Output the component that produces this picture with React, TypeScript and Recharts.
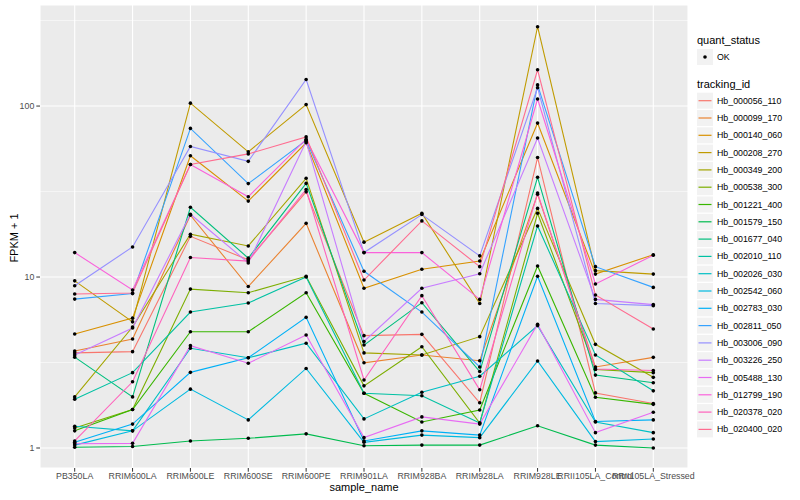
import React from 'react';
import { LineChart, Line, XAxis, YAxis, CartesianGrid, ReferenceLine } from 'recharts';

const samples = [
  'PB350LA', 'RRIM600LA', 'RRIM600LE', 'RRIM600SE', 'RRIM600PE', 'RRIM901LA',
  'RRIM928BA', 'RRIM928LA', 'RRIM928LE', 'RRII105LA_Control', 'RRII105LA_Stressed',
];

const yTicks = [1, 10, 100];
const minorTicks = [3.1623, 31.623, 316.23];

// FPKM + 1 per gene, one value per sample
const Hb_000056_110 = [3.6, 3.66, 17.3, 12.6, 31.5, 4.54, 4.62, 1.84, 50, 2.1, 1.82];
const Hb_000099_170 = [3.69, 4.34, 23.0, 8.8, 20.6, 3.15, 3.5, 3.24, 30.5, 2.98, 3.39];
const Hb_000140_060 = [4.64, 5.75, 51.2, 27.8, 61, 8.6, 11.1, 12.4, 79.5, 10.4, 13.5];
const Hb_000208_270 = [9.5, 5.47, 104, 54, 102, 16, 23.6, 7.0, 291, 10.9, 10.4];
const Hb_000349_200 = [1.99, 5.1, 17.8, 15.2, 37.8, 3.6, 3.5, 4.48, 25.2, 4.04, 2.59];
const Hb_000538_300 = [1.31, 1.68, 8.5, 8.1, 10.1, 2.31, 3.91, 1.4, 23.6, 2.88, 2.76];
const Hb_001221_400 = [1.26, 1.68, 4.79, 4.79, 8.1, 2.09, 1.42, 1.67, 11.6, 1.98, 1.8];
const Hb_001579_150 = [1.01, 1.02, 1.1, 1.14, 1.21, 1.03, 1.04, 1.04, 1.35, 1.04, 1.0];
const Hb_001677_040 = [3.4, 1.99, 25.6, 12.9, 35.3, 4.0, 7.08, 2.8, 38.3, 2.67, 2.41];
const Hb_002010_110 = [1.93, 2.76, 6.24, 7.05, 10.0, 2.09, 2.02, 1.4, 19.9, 3.5, 2.16];
const Hb_002026_030 = [1.34, 1.26, 3.83, 3.37, 4.1, 1.48, 2.12, 2.63, 5.2, 1.42, 1.23];
const Hb_002542_060 = [1.04, 1.26, 2.21, 1.46, 2.92, 1.08, 1.19, 1.15, 3.23, 1.09, 1.13];
const Hb_002783_030 = [1.08, 1.38, 2.77, 3.37, 5.81, 1.1, 1.26, 1.19, 10.1, 1.43, 1.46];
const Hb_002811_050 = [7.43, 8.0, 74, 35.2, 63, 10.8, 6.24, 2.98, 133, 11.5, 8.7];
const Hb_003006_090 = [8.9, 15.0, 58, 47.5, 143, 13.9, 23.2, 13.3, 128, 7.0, 6.8];
const Hb_003226_250 = [3.5, 5.03, 23.3, 12.1, 62, 4.2, 8.6, 10.45, 65, 7.4, 6.9];
const Hb_005488_130 = [1.06, 1.065, 3.97, 3.13, 4.58, 1.15, 1.52, 1.38, 5.3, 1.23, 1.62];
const Hb_012799_190 = [13.9, 8.4, 45.5, 29.5, 64, 13.9, 13.9, 7.4, 110, 9.1, 13.4];
const Hb_020378_020 = [1.1, 2.44, 13, 12.4, 32.5, 2.5, 7.78, 2.19, 31, 2.9, 2.84];
const Hb_020400_020 = [7.95, 8.06, 45.5, 52.5, 66, 9.6, 21.3, 11.5, 163, 7.85, 4.97];

const genes: [string, number[], string][] = [
  ['Hb_000056_110', Hb_000056_110, '#F8766D'],
  ['Hb_000099_170', Hb_000099_170, '#EA8331'],
  ['Hb_000140_060', Hb_000140_060, '#D89000'],
  ['Hb_000208_270', Hb_000208_270, '#C09B00'],
  ['Hb_000349_200', Hb_000349_200, '#A3A500'],
  ['Hb_000538_300', Hb_000538_300, '#7CAE00'],
  ['Hb_001221_400', Hb_001221_400, '#39B600'],
  ['Hb_001579_150', Hb_001579_150, '#00BB4E'],
  ['Hb_001677_040', Hb_001677_040, '#00BF7D'],
  ['Hb_002010_110', Hb_002010_110, '#00C1A3'],
  ['Hb_002026_030', Hb_002026_030, '#00BFC4'],
  ['Hb_002542_060', Hb_002542_060, '#00BAE0'],
  ['Hb_002783_030', Hb_002783_030, '#00B0F6'],
  ['Hb_002811_050', Hb_002811_050, '#35A2FF'],
  ['Hb_003006_090', Hb_003006_090, '#9590FF'],
  ['Hb_003226_250', Hb_003226_250, '#C77CFF'],
  ['Hb_005488_130', Hb_005488_130, '#E76BF3'],
  ['Hb_012799_190', Hb_012799_190, '#FA62DB'],
  ['Hb_020378_020', Hb_020378_020, '#FF62BC'],
  ['Hb_020400_020', Hb_020400_020, '#FF6C90'],
];

const data = samples.map((s, i) => {
  const row: Record<string, string | number> = { sample_name: s };
  genes.forEach(([id, vals]) => { row[id] = vals[i]; });
  return row;
});

const font = '"Liberation Sans", Arial, sans-serif';

const YTitle = () => (
  <text x={14} y={238} transform="rotate(-90, 14, 238)" textAnchor="middle"
    dominantBaseline="central" fontSize={11} fill="#000" fontFamily={font}>
    FPKM + 1
  </text>
);

function LegendBox() {
  return (
    <svg width={110} height={450} style={{ position: 'absolute', left: 690, top: 0 }} fontFamily={font}>
      <text x={7} y={44} fontSize={11}>quant_status</text>
      <rect x={7} y={49} width={16} height={16} fill="#F2F2F2" />
      <circle cx={15} cy={57} r={1.8} fill="#000" />
      <text x={27} y={57} fontSize={8.8} dominantBaseline="central">OK</text>
      <text x={7} y={88} fontSize={11}>tracking_id</text>
      {genes.map(([id, , color], i) => {
        const cy = 100.7 + i * 17.3;
        return (
          <g key={id}>
            <rect x={7} y={cy - 8} width={16} height={16} fill="#F2F2F2" />
            <line x1={8.5} x2={21.5} y1={cy} y2={cy} stroke={color} strokeWidth={1.2} />
            <text x={27} y={cy} fontSize={8.8} dominantBaseline="central">{id}</text>
          </g>
        );
      })}
    </svg>
  );
}

export default function App() {
  return (
    <div style={{ position: 'absolute', left: 0, top: 0, width: 800, height: 500, background: '#fff' }}>
      <LineChart width={800} height={500} data={data}
        margin={{ top: 5, right: 112, bottom: 0, left: 0 }}>
        <CartesianGrid fill="#EBEBEB" stroke="#FFFFFF" strokeWidth={1.1} />
        {minorTicks.map((v) => (
          <ReferenceLine key={v} y={v} stroke="#FFFFFF" strokeWidth={0.55} />
        ))}
        <XAxis dataKey="sample_name" interval={0} padding={{ left: 34.7, right: 34.7 }}
          height={32} axisLine={false} tickSize={3.7} tickMargin={1}
          tickLine={{ stroke: '#333333' }}
          tick={{ fontSize: 8.8, fill: '#4D4D4D', fontFamily: font }}
          label={{ value: 'sample_name', position: 'insideBottom', offset: 9,
            style: { fontSize: 11, fill: '#000', fontFamily: font } }} />
        <YAxis scale="log" domain={[0.764, 390]} allowDataOverflow ticks={yTicks}
          tickFormatter={(v) => String(v)} width={40} axisLine={false} tickSize={3.7}
          tickLine={{ stroke: '#333333' }}
          tick={{ fontSize: 8.8, fill: '#4D4D4D', fontFamily: font }}
          label={<YTitle />} />
        {genes.map(([id, , color]) => (
          <Line key={id} type="linear" dataKey={id} stroke={color} strokeWidth={1.1}
            dot={{ r: 1.8, fill: '#000', stroke: 'none' }} activeDot={false}
            isAnimationActive={false} />
        ))}
      </LineChart>
      <LegendBox />
    </div>
  );
}
